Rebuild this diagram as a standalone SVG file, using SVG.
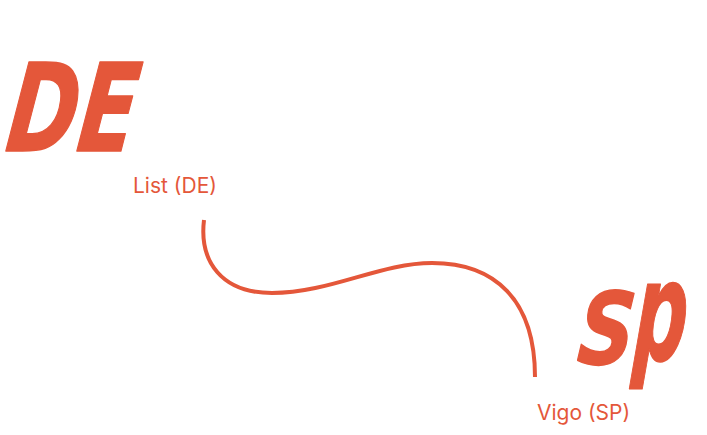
<svg xmlns="http://www.w3.org/2000/svg" width="707" height="435" viewBox="0 0 707 435">
<style>
.big{fill:#E4573A;stroke:#E4573A;stroke-width:1.5;stroke-linejoin:round;font-family:"DejaVu Sans",sans-serif;font-weight:bold;font-style:oblique;}
.lbl{fill:#E4573A;font-family:Inter,"Liberation Sans",sans-serif;font-size:21px;}
.conn{fill:none;stroke:#E4573A;stroke-width:4;stroke-linecap:butt;}
</style>
<rect width="707" height="435" fill="#ffffff"/>
<g id="node-de">
<text class="big" x="0" y="0" font-size="122" transform="translate(4,151) skewX(-7) scale(0.7,1)">DE</text>
<text class="lbl" x="133" y="193">List (DE)</text>
</g>
<g id="node-sp">
<text class="big" x="0" y="0" font-size="100" transform="translate(576,364) skewX(-5) scale(0.78,1)">S</text>
<text class="big" x="0" y="0" font-size="128" transform="translate(632,360) skewX(-4) scale(0.58,1.08)">p</text>
<text class="lbl" x="537" y="420">Vigo (SP)</text>
</g>
<g id="connectors">
<path class="conn" d="M204,220 C199,262 222,293 272,293 C330,293 380,263 432,263 C495,263 535,300 535,377"/>
</g>
</svg>
